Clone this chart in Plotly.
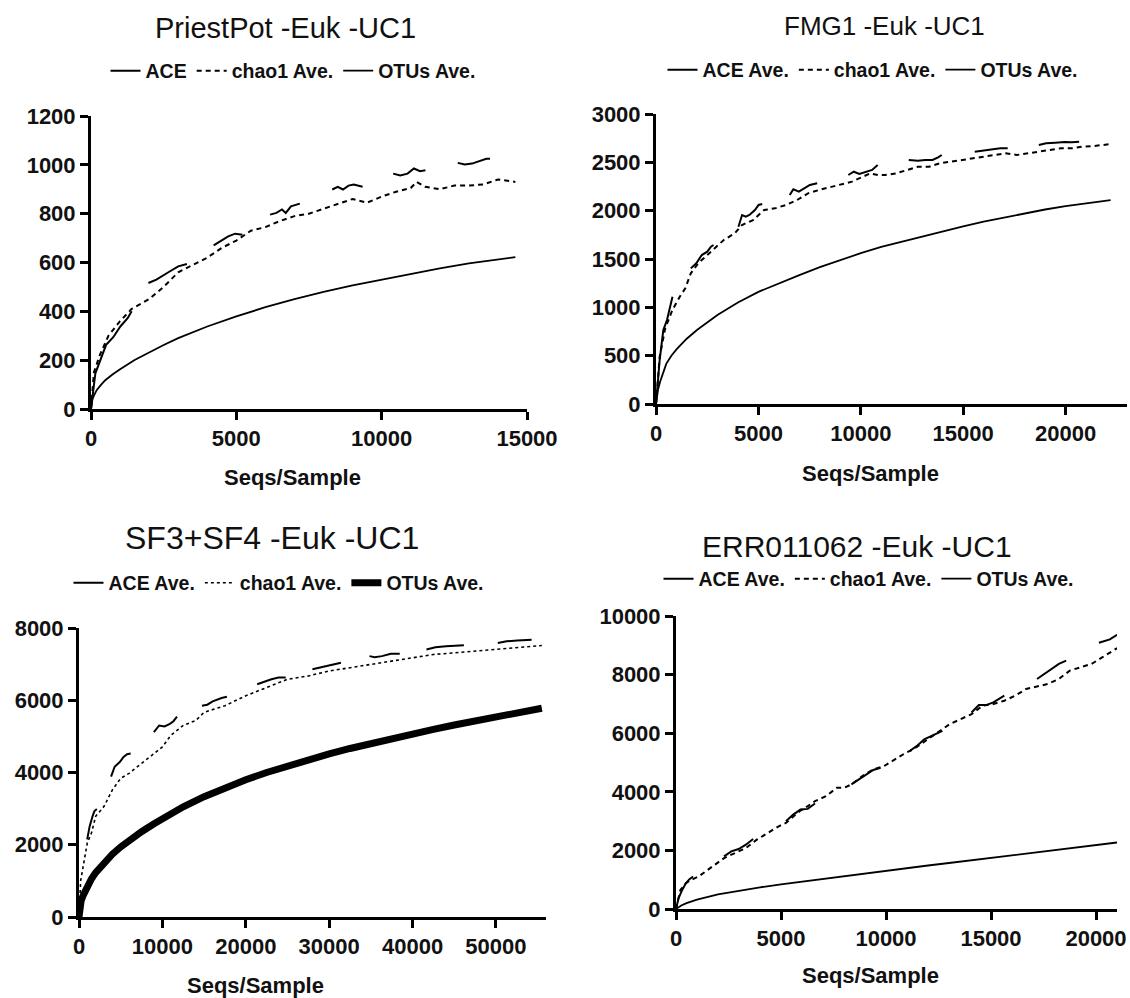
import plotly.graph_objects as go

# ---------------- Panel 1: PriestPot -Euk -UC1 ----------------
p1_otus_x = [0, 50, 100, 200, 350, 500, 750, 1000, 1500, 2000, 2500, 3000, 4000, 5000, 6000, 7000, 8000, 9000, 10000, 11000, 12000, 13000, 14000, 14600]
p1_otus_y = [0, 40, 55, 78, 100, 119, 142, 163, 201, 233, 262, 290, 338, 379, 417, 450, 480, 506, 530, 553, 576, 596, 613, 622]
p1_chao_x = [0, 100, 300, 600, 1000, 1400, 2000, 2500, 3000, 3500, 4000, 4500, 5000, 5500, 6000, 6500, 7000, 7500, 8000, 8500, 9000, 9500, 10000, 10500, 11000, 11200, 11500, 12000, 12500, 13000, 13500, 14000, 14600]
p1_chao_y = [0, 150, 220, 300, 360, 410, 450, 500, 560, 590, 620, 660, 690, 730, 745, 770, 790, 800, 820, 840, 860, 845, 870, 890, 905, 930, 910, 900, 915, 915, 920, 940, 930]
p1_ace_x = [0, 150, 520, 765, 1010, 1260, 1400, None,
            1975, 2250, 2620, 3000, 3300, None,
            4220, 4470, 4720, 4960, 5210, None,
            6160, 6380, 6570, 6700, 6880, 7185, None,
            8300, 8490, 8670, 8860, 9040, 9345, None,
            10395, 10640, 10890, 11110, 11320, 11505, None,
            12617, 12860, 13110, 13360, 13600, 13728]
p1_ace_y = [0, 146, 263, 294, 338, 372, 400, None,
            516, 530, 557, 584, 594, None,
            670, 687, 707, 718, 714, None,
            796, 803, 817, 803, 830, 841, None,
            899, 910, 899, 915, 919, 910, None,
            964, 956, 964, 985, 974, 978, None,
            1008, 1001, 1005, 1015, 1025, 1025]

# ---------------- Panel 2: FMG1 -Euk -UC1 ----------------
p2_otus_x = [0, 100, 200, 350, 500, 750, 1000, 1500, 2000, 3000, 4000, 5000, 6000, 7000, 8000, 9000, 10000, 11000, 12000, 13000, 14000, 15000, 16000, 17000, 18000, 19000, 20000, 21000, 22200]
p2_otus_y = [0, 150, 230, 330, 415, 500, 565, 675, 766, 921, 1050, 1160, 1250, 1334, 1415, 1490, 1560, 1625, 1680, 1732, 1785, 1838, 1886, 1930, 1972, 2012, 2048, 2078, 2110]
p2_chao_x = [0, 180, 450, 800, 1160, 1430, 1700, 2060, 2415, 2770, 3310, 3850, 4200, 4740, 5280, 5810, 6350, 6890, 7420, 7960, 8500, 9030, 9570, 10110, 10470, 10830, 11180, 11720, 12260, 12790, 13330, 13860, 14400, 14940, 15470, 16010, 16550, 17080, 17620, 18160, 18690, 19230, 19770, 20300, 20840, 21380, 22100]
p2_chao_y = [0, 490, 783, 972, 1110, 1197, 1352, 1455, 1524, 1593, 1697, 1766, 1852, 1903, 2007, 2024, 2059, 2110, 2179, 2214, 2241, 2266, 2300, 2352, 2386, 2369, 2369, 2386, 2421, 2455, 2455, 2490, 2507, 2524, 2541, 2559, 2576, 2593, 2576, 2593, 2610, 2628, 2645, 2645, 2662, 2669, 2686]
p2_ace_x = [0, 179, 358, 537, 805, None,
            1700, 1968, 2236, 2504, 2683, 2809, None,
            4025, 4204, 4383, 4562, 4830, 5009, 5188, None,
            6530, 6708, 6977, 7245, 7513, 7871, None,
            9392, 9660, 9928, 10286, 10555, 10823, None,
            12343, 12790, 13148, 13506, 13775, 13954, None,
            15564, 16011, 16458, 16816, 17174, None,
            18694, 19052, 19499, 19946, 20304, 20662]
p2_ace_y = [0, 455, 766, 869, 1110, None,
            1403, 1455, 1541, 1576, 1628, 1645, None,
            1834, 1955, 1938, 1955, 2007, 2059, 2069, None,
            2162, 2221, 2197, 2231, 2266, 2283, None,
            2369, 2403, 2379, 2403, 2421, 2472, None,
            2524, 2517, 2524, 2524, 2552, 2576, None,
            2610, 2621, 2634, 2645, 2645, None,
            2679, 2697, 2703, 2710, 2707, 2714]

# ---------------- Panel 3: SF3+SF4 -Euk -UC1 ----------------
p3_otus_x = [0, 100, 250, 500, 750, 1000, 1500, 2000, 3000, 4000, 5000, 6000, 7500, 9000, 10000, 12500, 15000, 17500, 20000, 22500, 25000, 27500, 30000, 32500, 35000, 37500, 40000, 42500, 45000, 47500, 50000, 52500, 55500]
p3_otus_y = [0, 280, 440, 600, 740, 860, 1060, 1230, 1510, 1740, 1940, 2120, 2360, 2580, 2725, 3050, 3330, 3580, 3800, 4000, 4185, 4355, 4515, 4665, 4805, 4940, 5070, 5195, 5315, 5430, 5540, 5650, 5780]
p3_chao_x = [0, 200, 500, 1000, 1500, 2000, 3000, 4000, 5000, 6000, 7500, 9000, 10000, 11000, 12500, 14000, 15000, 17500, 20000, 22500, 25000, 27500, 30000, 32500, 35000, 37500, 40000, 42500, 45000, 47500, 50000, 52500, 55500]
p3_chao_y = [0, 1005, 1400, 2056, 2331, 2788, 3062, 3519, 3839, 3976, 4251, 4525, 4708, 5027, 5302, 5439, 5667, 5850, 6124, 6353, 6581, 6673, 6810, 6901, 6993, 7102, 7175, 7267, 7312, 7358, 7422, 7468, 7514]
p3_ace_x = [983, 1282, 1624, 1838, 2137, None,
            3846, 4274, 4915, 5342, 5769, 6197, None,
            8974, 9615, 10256, 10897, 11325, 11752, None,
            14744, 15385, 16026, 16667, 17094, 17735, None,
            21368, 22222, 23077, 23932, 24786, None,
            27991, 28846, 29701, 30556, 31410, None,
            34829, 35470, 36325, 37393, 38462, None,
            41667, 42735, 44017, 45299, 46154, None,
            50214, 51282, 52564, 54274]
p3_ace_y = [2148, 2514, 2788, 2925, 2989, None,
            3885, 4159, 4296, 4433, 4506, 4525, None,
            5119, 5302, 5274, 5347, 5420, 5548, None,
            5850, 5877, 5969, 6033, 6060, 6097, None,
            6444, 6517, 6581, 6627, 6627, None,
            6856, 6901, 6947, 6993, 7038, None,
            7221, 7193, 7221, 7285, 7285, None,
            7404, 7468, 7495, 7523, 7523, None,
            7587, 7633, 7651, 7678]

# ---------------- Panel 4: ERR011062 -Euk -UC1 ----------------
p4_otus_x = [0, 250, 500, 1000, 2000, 3000, 4000, 5000, 6000, 7000, 8000, 9000, 10000, 11000, 12000, 13000, 14000, 15000, 16000, 17000, 18000, 19000, 20000, 21000]
p4_otus_y = [0, 120, 200, 320, 500, 630, 740, 840, 935, 1030, 1120, 1215, 1305, 1395, 1485, 1570, 1655, 1740, 1825, 1910, 1995, 2085, 2180, 2270]
p4_chao_x = [0, 208, 468, 728, 1075, 1421, 1941, 2288, 2808, 3328, 3847, 4367, 4887, 5234, 5581, 5927, 6274, 6620, 7140, 7660, 8007, 8353, 8873, 9393, 9913, 10433, 10953, 11300, 11646, 11993, 12513, 13033, 13553, 14073, 14593, 15113, 15633, 16153, 16672, 17192, 17712, 18232, 18752, 19272, 19792, 20312, 21005]
p4_chao_y = [0, 651, 880, 994, 1109, 1280, 1566, 1737, 1909, 2080, 2366, 2594, 2823, 2937, 3166, 3360, 3509, 3680, 3851, 4137, 4137, 4251, 4537, 4766, 4880, 5109, 5337, 5451, 5623, 5794, 6023, 6309, 6480, 6651, 6937, 6994, 7109, 7280, 7509, 7600, 7680, 7851, 8137, 8251, 8366, 8594, 8903]
p4_ace_x = [0, 121, 295, 468, 641, 815, None,
            2288, 2634, 2981, 3328, 3674, None,
            5234, 5581, 5927, 6274, 6620, None,
            8353, 8700, 9047, 9393, 9740, None,
            11126, 11473, 11820, 12166, 12686, None,
            14073, 14420, 14766, 15113, 15633, None,
            17192, 17539, 17886, 18232, 18579, None,
            20139, 20659, 21005]
p4_ace_y = [0, 366, 651, 880, 1017, 1109, None,
            1794, 1966, 2046, 2194, 2389, None,
            2994, 3223, 3394, 3417, 3600, None,
            4251, 4423, 4594, 4743, 4823, None,
            5394, 5566, 5794, 5909, 6080, None,
            6709, 6960, 6960, 7051, 7280, None,
            7851, 8023, 8194, 8366, 8480, None,
            9086, 9200, 9360]

titles = ["PriestPot -Euk -UC1", "FMG1 -Euk -UC1", "SF3+SF4 -Euk -UC1", "ERR011062 -Euk -UC1"]
ace_names = ["ACE", "ACE Ave.", "ACE Ave.", "ACE Ave."]
chao_name = "chao1 Ave."
otus_name = "OTUs Ave."
x_title = "Seqs/Sample"

x_ranges = [[0, 15000], [0, 23000], [0, 56000], [0, 21000]]
x_dticks = [5000, 5000, 10000, 5000]
y_ranges = [[0, 1200], [0, 3000], [0, 8000], [0, 10000]]
y_dticks = [200, 500, 2000, 2000]

W, H = 1130, 998
# plot-area pixel boxes: (left, right, bottom, top)
boxes = [(91, 527, 409, 116), (656, 1127, 404, 114), (79, 546, 917, 628), (676, 1117, 909, 616)]
title_pos = [(285, 28), (884, 26), (272, 538), (857, 546)]
title_size = [29, 26, 32, 30]
legend_pos = [(293, 71), (873, 70), (279, 583), (869, 579)]
xtitle_pos = [(292, 477), (870, 473), (255, 985), (870, 975)]

panels = [
    (p1_ace_x, p1_ace_y, p1_chao_x, p1_chao_y, p1_otus_x, p1_otus_y),
    (p2_ace_x, p2_ace_y, p2_chao_x, p2_chao_y, p2_otus_x, p2_otus_y),
    (p3_ace_x, p3_ace_y, p3_chao_x, p3_chao_y, p3_otus_x, p3_otus_y),
    (p4_ace_x, p4_ace_y, p4_chao_x, p4_chao_y, p4_otus_x, p4_otus_y),
]

FONT = "Liberation Sans, Arial, sans-serif"
fig = go.Figure()
layout = dict(template="none", width=W, height=H, margin=dict(l=0, r=0, t=0, b=0, autoexpand=False),
              paper_bgcolor="white", plot_bgcolor="white", annotations=[],
              font=dict(family=FONT, color="#111"))

for i, (ax, ay, cx, cy, ox, oy) in enumerate(panels):
    n = "" if i == 0 else str(i + 1)
    leg = "legend" if i == 0 else f"legend{i + 1}"
    thick = (i == 2)
    fig.add_trace(go.Scatter(x=ax, y=ay, mode="lines", name=ace_names[i], xaxis="x" + n, yaxis="y" + n,
                             legend=leg, connectgaps=False, line=dict(color="black", width=2)))
    fig.add_trace(go.Scatter(x=cx, y=cy, mode="lines", name=chao_name, xaxis="x" + n, yaxis="y" + n,
                             legend=leg, line=dict(color="black", width=1.6 if thick else 2,
                                                   dash="3px,3px" if thick else "5px,4px")))
    fig.add_trace(go.Scatter(x=ox, y=oy, mode="lines", name=otus_name, xaxis="x" + n, yaxis="y" + n,
                             legend=leg, line=dict(color="black", width=7 if thick else 1.8)))

    l, r, b, t = boxes[i]
    axis_common = dict(showline=True, linewidth=3, linecolor="black", ticks="outside", ticklen=8,
                       tickwidth=3, tickcolor="black", showgrid=False, zeroline=False, tickformat="d",
                       automargin=False,
                       tickfont=dict(family=FONT, size=22, color="#111", weight="bold"), fixedrange=True)
    layout["xaxis" + n] = dict(domain=[l / W, r / W], range=x_ranges[i], dtick=x_dticks[i], tick0=0,
                               anchor="y" + n, **axis_common)
    layout["yaxis" + n] = dict(domain=[(H - b) / H, (H - t) / H], range=y_ranges[i], dtick=y_dticks[i], tick0=0,
                               anchor="x" + n, **axis_common)
    lx, ly = legend_pos[i]
    layout[leg] = dict(orientation="h", x=lx / W, y=1 - ly / H, xanchor="center", yanchor="middle",
                       font=dict(family=FONT, size=19.5, color="#111", weight="bold"), itemwidth=30,
                       bgcolor="rgba(0,0,0,0)", tracegroupgap=0)
    tx, ty = title_pos[i]
    layout["annotations"].append(dict(text=titles[i], x=tx / W, y=1 - ty / H, xref="paper", yref="paper",
                                      showarrow=False, xanchor="center", yanchor="middle",
                                      font=dict(family=FONT, size=title_size[i], color="#111")))
    xx, xy = xtitle_pos[i]
    layout["annotations"].append(dict(text="<b>" + x_title + "</b>", x=xx / W, y=1 - xy / H, xref="paper",
                                      yref="paper", showarrow=False, xanchor="center", yanchor="middle",
                                      font=dict(family=FONT, size=22, color="#111")))

fig.update_layout(**layout)
fig.update_layout(showlegend=True)
fig.write_html("out.html", config={"displayModeBar": False},
               post_script="document.body.style.margin='0';document.body.style.padding='0';"
                           "document.body.style.overflow='hidden';")
